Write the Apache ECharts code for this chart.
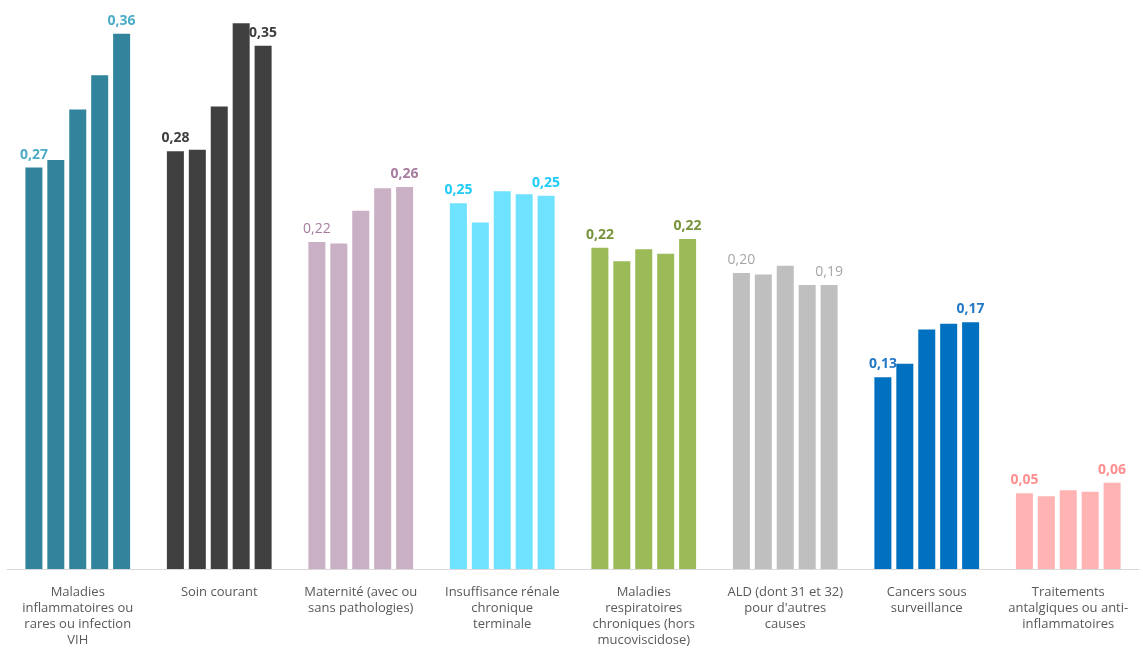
<!DOCTYPE html>
<html>
<head>
<meta charset="utf-8">
<script src="https://cdn.jsdelivr.net/npm/echarts@6/dist/echarts.min.js"></script>
<style>
html,body{margin:0;padding:0;background:#fff;}
#c{width:1143px;height:663px;}
</style>
</head>
<body>
<div id="c"></div>
<script>
const categories = [
  "Maladies\ninflammatoires ou\nrares ou infection\nVIH",
  "Soin courant",
  "Maternité (avec ou\nsans pathologies)",
  "Insuffisance rénale\nchronique\nterminale",
  "Maladies\nrespiratoires\nchroniques (hors\nmucoviscidose)",
  "ALD (dont 31 et 32)\npour d'autres\ncauses",
  "Cancers sous\nsurveillance",
  "Traitements\nantalgiques ou anti-\ninflammatoires"
];
// five bars (periods) per category
const valsInflam   = [0.270, 0.275, 0.309, 0.332, 0.360];
const valsSoin     = [0.281, 0.282, 0.311, 0.367, 0.352];
const valsMaternite= [0.220, 0.219, 0.241, 0.256, 0.257];
const valsIRCT     = [0.246, 0.233, 0.254, 0.252, 0.251];
const valsRespi    = [0.216, 0.207, 0.215, 0.212, 0.222];
const valsALD      = [0.199, 0.198, 0.204, 0.191, 0.191];
const valsCancers  = [0.129, 0.138, 0.161, 0.165, 0.166];
const valsAntalg   = [0.051, 0.049, 0.053, 0.052, 0.058];

const groups = [valsInflam, valsSoin, valsMaternite, valsIRCT, valsRespi, valsALD, valsCancers, valsAntalg];
const barColors   = ["#31849B", "#404040", "#CAB0C5", "#6EE2FF", "#9BBB59", "#BFBFBF", "#0070C0", "#FFB3B3"];
const labelColors = ["#4BACC6", "#404040", "#A77C9F", "#1FCBF7", "#77933C", "#A6A6A6", "#2479C6", "#FF8F8F"];
const labelWeights= ["bold", "bold", "bold", "bold", "bold", "normal", "bold", "bold"];

const nBars = 5;
const series = [];
for (let s = 0; s < nBars; s++) {
  const showLabel = (s === 0 || s === nBars - 1);
  series.push({
    type: 'bar',
    barWidth: 17,
    barGap: '29%',
    data: groups.map((g, i) => ({
      value: g[s],
      itemStyle: { color: barColors[i] },
      label: {
        show: showLabel,
        color: labelColors[i],
        fontWeight: (i === 2 && s === 0) ? 'normal' : labelWeights[i]
      }
    })),
    label: {
      position: 'top',
      distance: 6,
      fontFamily: 'Open Sans',
      fontSize: 14,
      formatter: p => p.value.toFixed(2).replace('.', ',')
    }
  });
}

const chart = echarts.init(document.getElementById('c'), null, {renderer: 'canvas'});
chart.setOption({
  animation: false,
  backgroundColor: '#fff',
  grid: { left: 7, right: 4, top: 4, bottom: 94, containLabel: false },
  xAxis: {
    type: 'category',
    data: categories,
    axisLine: { lineStyle: { color: '#D9D9D9', width: 1 } },
    axisTick: { show: false },
    axisLabel: {
      interval: 0,
      color: '#595959',
      fontFamily: 'Open Sans',
      fontSize: 13,
      lineHeight: 16,
      margin: 15
    }
  },
  yAxis: {
    type: 'value',
    min: 0,
    max: 0.38,
    show: false,
    splitLine: { show: false }
  },
  series: series
});
</script>
</body>
</html>
